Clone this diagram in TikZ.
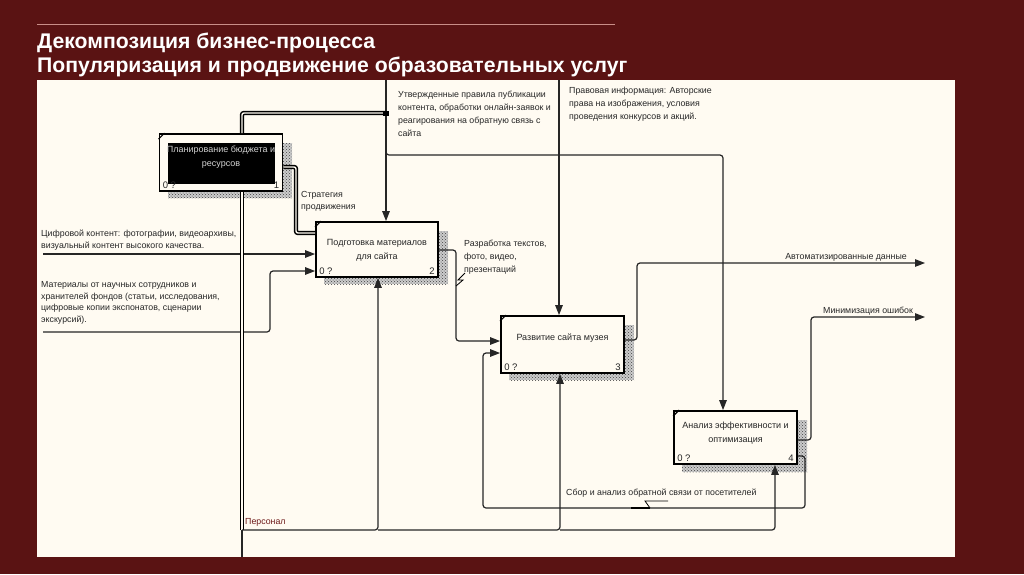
\documentclass[tikz,border=0pt]{standalone}
\usepackage{fontspec}
\setmainfont{Liberation Sans}
\usetikzlibrary{arrows.meta,patterns,calc}
\definecolor{bgred}{HTML}{5A1313}
\definecolor{cream}{HTML}{FFFBF2}
\definecolor{titleline}{HTML}{C98E88}
\definecolor{lbl}{HTML}{262626}
\definecolor{perscol}{HTML}{6E1A1A}
\tikzset{
  idefbox/.style={draw=black, line width=1.8pt, fill=cream, inner sep=0pt},
  shadowbox/.style={pattern=crosshatch dots, pattern color=black!75},
  conn/.style={draw=black!85, line width=1.2pt, rounded corners=3pt},
  arr/.style={conn, -{Triangle[length=10pt,width=7.5pt]}},
  dbl/.style={draw=black, line width=1.5pt, double=cream, double distance=1.4pt, rounded corners=2pt},
  lab/.style={font=\fontsize{8.8}{13}\selectfont, text=lbl, align=left, inner sep=0pt},
  boxtxt/.style={font=\fontsize{9}{14}\selectfont, text=lbl, align=center, inner sep=0pt},
  cornertxt/.style={font=\fontsize{9.5}{10}\selectfont, text=lbl, inner sep=0pt},
  title/.style={font=\fontsize{21.2}{24}\bfseries\selectfont, text=white, inner sep=0pt, anchor=base west}
}
\begin{document}
\begin{tikzpicture}[x=1pt,y=-1pt]
\useasboundingbox (0,0) rectangle (1024,574);
\fill[bgred] (0,0) rectangle (1024,574);
\draw[titleline, line width=0.8pt] (37,24) -- (615,24);
\node[title] (t1) at (37,48) {Декомпозиция бизнес-процесса};
\node[title] (t2) at (37,72) {Популяризация и продвижение образовательных услуг};
\fill[cream] (37,80) rectangle (955,557);

% shadows
\foreach \xa/\ya/\xb/\yb in {168/143/292/198, 324/231/448/284, 509/325/634/380, 682/420/807/472}{
  \fill[gray!40] (\xa,\ya) rectangle (\xb,\yb);
  \fill[shadowbox] (\xa,\ya) rectangle (\xb,\yb);
}

% boxes
\node[idefbox, minimum width=123pt, minimum height=57pt] (b1) at (221,162.5) {};
\fill[black] (168,143) rectangle (275,184);
\node[boxtxt, text=gray!35] (b1t) at (221,157) {Планирование бюджета и\\ресурсов};
\node[idefbox, minimum width=122pt, minimum height=55pt] (b2) at (377,249.5) {};
\node[boxtxt] (b2t) at (377,250) {Подготовка материалов\\для сайта};
\node[idefbox, minimum width=123pt, minimum height=57pt] (b3) at (562.5,344.5) {};
\node[boxtxt] (b3t) at (562.5,338) {Развитие сайта музея};
\node[idefbox, minimum width=123pt, minimum height=53pt] (b4) at (735.5,437.5) {};
\node[boxtxt] (b4t) at (735.5,433) {Анализ эффективности и\\оптимизация};

% corner ticks and labels
\foreach \b/\n in {b1/1,b2/2,b3/3,b4/4}{
  \draw[line width=1.1pt] ($(\b.north west)+(0,6)$) -- ($(\b.north west)+(6,0)$);
  \node[cornertxt, anchor=south west] at ($(\b.south west)+(4,-3)$) {0 ?};
  \node[cornertxt, anchor=south east] at ($(\b.south east)+(-4,-3)$) {\n};
}

% top controls
\coordinate (ct1) at (386,80);
\coordinate (ct2) at (559,80);
\draw[arr] (ct1) -- (ct1 |- b2.north);
\draw[dbl] (386,113) -- (242,113) -- (242,0 |- b1.north);
\fill[black] (383,111) rectangle (389,116);
\draw[arr] (386,140) |- (723,155) -- (723,0 |- b4.north);
\draw[arr] (ct2) -- (ct2 |- b3.north);

% inputs to box 2
\coordinate (i1) at (43,254);
\coordinate (i2) at (43,332);
\draw[arr] (i1) -- (b2.west |- i1);
\draw[arr] (i2) -- (270,332) -- (270,271) -- (b2.west |- 0,271);
\draw[dbl] (b1.east |- 0,167) -- (296,167) -- (296,233) -- (b2.west |- 0,233);

% mechanism
\coordinate (pm) at (242,557);
\draw[conn] (pm) -- (242,530);
\draw[dbl] (242,530) -- (242,0 |- b1.south);
\draw[arr] (242,530) -| (378,0 |- b2.south);
\draw[arr] (378,530) -| (560,0 |- b3.south);
\draw[arr] (560,530) -| (775,0 |- b4.south);

% box 2 -> box 3
\draw[arr] (b2.east |- 0,250) -- (456,250) -- (456,341) -- (b3.west |- 0,341);
% box 3 output
\coordinate (o1) at (925,263);
\draw[arr] (b3.east |- 0,340) -- (637,340) -- (637,263) -- (o1);
% box 4 outputs
\coordinate (o2) at (925,317);
\draw[arr] (b4.east |- 0,440) -- (811,440) -- (811,317) -- (o2);
\draw[arr] (b4.east |- 0,456) -- (805,456) -- (805,508) -- (483,508) -- (483,353) -- (b3.west |- 0,353);

% squiggles
\draw[line width=0.8pt] (456,286) -- (463,280) -- (458,280) -- (465,273);
\draw[line width=0.8pt] (668,501) -- (645,501) -- (650,508);
\draw[line width=1.8pt] (631,508) -- (650,508);

% labels
\node[lab, anchor=north west] (l1) at (398,91) {Утвержденные правила публикации\\контента, обработки онлайн-заявок и\\реагирования на обратную связь с\\сайта};
\node[lab, anchor=north west] (l2) at (569,87) {Правовая информация: Авторские\\права на изображения, условия\\проведения конкурсов и акций.};
\node[lab, anchor=north west, font=\fontsize{8.8}{12}\selectfont] (l3) at (41,230) {Цифровой контент: фотографии, видеоархивы,\\визуальный контент высокого качества.};
\node[lab, anchor=north west, font=\fontsize{8.8}{11.8}\selectfont] (l4) at (41,281) {Материалы от научных сотрудников и\\хранителей фондов (статьи, исследования,\\цифровые копии экспонатов, сценарии\\экскурсий).};
\node[lab, anchor=north west, font=\fontsize{8.8}{12}\selectfont] (l5) at (301,191) {Стратегия\\продвижения};
\node[lab, anchor=north west] (l6) at (464,240) {Разработка текстов,\\фото, видео,\\презентаций};
\node[lab, anchor=base east] (l7) at (907,259) {Автоматизированные данные};
\node[lab, anchor=base west] (l8) at (823,313) {Минимизация ошибок};
\node[lab, anchor=base west] (l9) at (566,495) {Сбор и анализ обратной связи от посетителей};
\node[lab, anchor=base west, text=perscol] (l10) at (245,524) {Персонал};
\end{tikzpicture}
\end{document}
